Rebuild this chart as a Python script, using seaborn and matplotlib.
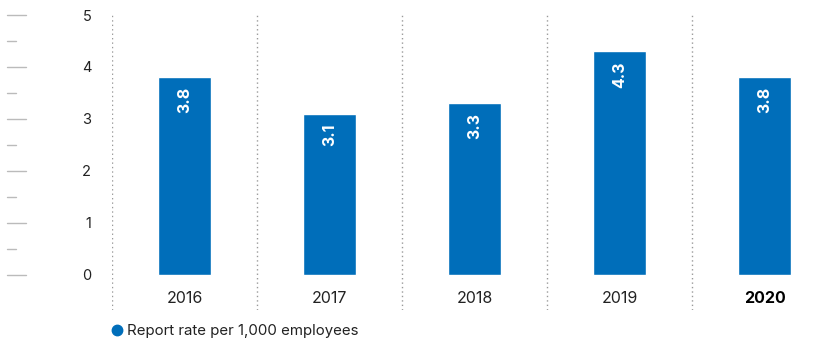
import matplotlib
matplotlib.use("Agg")
import matplotlib.pyplot as plt
import matplotlib.transforms as mtransforms
from matplotlib.lines import Line2D
import numpy as np
import pandas as pd
import seaborn as sns

years = ["2016", "2017", "2018", "2019", "2020"]
rates = [3.8, 3.1, 3.3, 4.3, 3.8]
y_ticks = [0, 1, 2, 3, 4, 5]
legend_label = "Report rate per 1,000 employees"

BLUE = "#006EBA"
GREY = "#9A9A9A"
TEXT = "#222222"

sns.set_style("white")
plt.rcParams["font.family"] = ["Inter", "DejaVu Sans"]

df = pd.DataFrame({"year": years, "rate": rates})

fig = plt.figure(figsize=(8.27, 3.45), dpi=100)
ax = fig.add_axes([0.1354, 0.1014, 0.8767, 0.855])

sns.barplot(data=df, x="year", y="rate", color=BLUE, width=0.365,
            saturation=1, ax=ax)

ax.set_xlim(-0.5, 4.5)
ax.set_ylim(-0.68, 5.0)

# dotted separators between the years
for x in np.arange(-0.5, len(years) - 0.5, 1.0):
    ax.axvline(x, color=GREY, linestyle=(0, (1, 2.2)), linewidth=1.0)

# value labels inside the bars
for i, v in enumerate(rates):
    ax.text(i, v - 0.19, f"{v:.1f}", rotation=90, ha="center", va="top",
            color="white", fontsize=11.5, fontweight="bold")

# year labels under the bars
for i, y in enumerate(years):
    last = i == len(years) - 1
    ax.text(i, -0.46, y, ha="center", va="center", fontsize=11.5,
            color="black" if last else TEXT,
            fontweight="bold" if last else "normal")

# y tick labels
ax.set_yticks(y_ticks)
ax.set_yticklabels([str(t) for t in y_ticks], fontsize=10.5, color=TEXT)
ax.tick_params(axis="y", length=0, pad=15)
ax.set_xticks([])
ax.set_xlabel("")
ax.set_ylabel("")
for s in ax.spines.values():
    s.set_visible(False)

# decorative scale marks at the far left
ax_w = fig.get_figwidth() * fig.dpi * 0.8767
trans = mtransforms.blended_transform_factory(ax.transAxes, ax.transData)
x0 = (7 - 112) / ax_w
for t in np.arange(0, 5.01, 0.5):
    x1 = (26 - 112) / ax_w if t == int(t) else (16 - 112) / ax_w
    ax.plot([x0, x1], [t, t], color="#BBBBBB", linewidth=1.0,
            transform=trans, clip_on=False)

handle = Line2D([], [], marker="o", linestyle="none", color=BLUE, markersize=7.5)
fig.legend([handle], [legend_label], loc="center left",
           bbox_to_anchor=(0.135, 0.04), frameon=False, fontsize=10.8,
           handlelength=0.7, handletextpad=0.3, borderaxespad=0, borderpad=0,
           labelcolor=TEXT)

fig.savefig("out.png", dpi=100)
